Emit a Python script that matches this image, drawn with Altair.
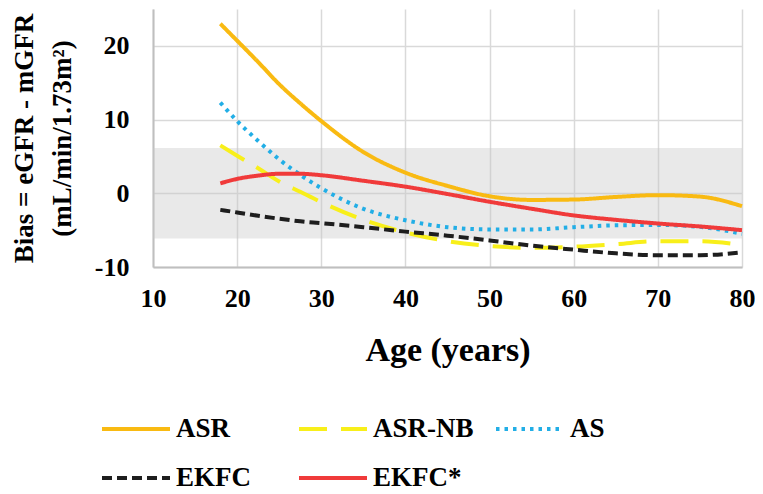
import altair as alt
import pandas as pd

ages = [18, 20, 22.5, 25, 27.5, 30, 35, 40, 45, 50, 55, 60, 65, 70, 75, 80]
asr = [23.0, 20.7, 17.8, 14.8, 12.2, 9.8, 5.6, 2.8, 1.0, -0.4, -0.9, -0.85, -0.5, -0.25, -0.45, -1.75]
asr_nb = [6.5, 5.1, 3.4, 1.6, 0.2, -1.2, -3.6, -5.3, -6.5, -7.15, -7.4, -7.25, -6.9, -6.5, -6.5, -7.0]
as_ = [12.3, 9.8, 7.1, 4.6, 2.5, 0.7, -2.1, -3.65, -4.6, -4.9, -4.9, -4.6, -4.35, -4.3, -4.55, -5.5]
ekfc = [-2.25, -2.6, -3.05, -3.45, -3.8, -4.05, -4.6, -5.2, -5.75, -6.4, -7.1, -7.65, -8.15, -8.4, -8.4, -8.0]
ekfc_star = [1.35, 1.95, 2.4, 2.65, 2.65, 2.45, 1.7, 0.9, -0.1, -1.15, -2.1, -3.0, -3.6, -4.1, -4.5, -5.0]

series_names = ["ASR", "ASR-NB", "AS", "EKFC", "EKFC*"]
series_values = [asr, asr_nb, as_, ekfc, ekfc_star]
series_colors = ["#F9BA12", "#F8EF1A", "#22AEE6", "#1E1E1E", "#F03A3A"]
series_dash = [[1, 0], [28, 14], [3.5, 5], [10, 5], [1, 0]]

band_low = [-6.15]
band_high = [6.15]
x_ticks = [10, 20, 30, 40, 50, 60, 70, 80]
y_ticks = [-10, 0, 10, 20]

rows = []
for name, vals in zip(series_names, series_values):
    for a, v in zip(ages, vals):
        rows.append({"Age": a, "Bias": v, "Series": name})
df = pd.DataFrame(rows)
band_df = pd.DataFrame({"lo": band_low, "hi": band_high})

FONT = "Liberation Serif"

x_scale = alt.Scale(domain=[10, 80], nice=False, zero=False)
y_scale = alt.Scale(domain=[-10, 25], nice=False, zero=False)

band = alt.Chart(band_df).mark_rect(color="#C8C8C8", opacity=0.4).encode(
    y=alt.Y("lo:Q", scale=y_scale),
    y2="hi:Q",
    x=alt.value(0),
    x2=alt.value(589),
)

lines = alt.Chart(df).mark_line(strokeWidth=4, interpolate="monotone", strokeCap="butt").encode(
    x=alt.X("Age:Q", scale=x_scale,
            axis=alt.Axis(values=x_ticks, title="Age (years)", grid=True, labelFlush=False)),
    y=alt.Y("Bias:Q", scale=y_scale,
            axis=alt.Axis(values=y_ticks, title=["Bias = eGFR - mGFR", "(mL/min/1.73m²)"], grid=True,
                          labelExpr="'' + datum.value", labelFlush=False)),
    color=alt.Color("Series:N", sort=series_names,
                    scale=alt.Scale(domain=series_names, range=series_colors),
                    legend=alt.Legend(title=None, orient="none", legendX=-53, legendY=384,
                                      direction="horizontal", columns=3, gridAlign="all",
                                      symbolType="stroke", symbolSize=4624, symbolStrokeWidth=4,
                                      labelFont=FONT, labelFontSize=27, labelFontWeight="bold",
                                      labelColor="#000", labelOffset=4, columnPadding=14,
                                      rowPadding=-8)),
    strokeDash=alt.StrokeDash("Series:N", sort=series_names,
                              scale=alt.Scale(domain=series_names, range=series_dash),
                              legend=None),
    order=alt.Order("Age:Q"),
)

chart = alt.layer(band, lines).properties(
    width=589, height=258,
    autosize=alt.AutoSizeParams(type="none"),
    padding={"left": 145, "top": 1, "right": 13, "bottom": 219},
).configure_view(stroke=None).configure_axis(
    labelFont=FONT, labelFontSize=26, labelFontWeight="bold", labelColor="#000",
    titleFont=FONT, titleColor="#000", titleFontWeight="bold",
    gridColor="#D9D9D9", gridWidth=1.5, domainColor="#BFBFBF", domainWidth=2,
    ticks=False,
).configure_axisX(
    labelPadding=18, titleFontSize=34, titlePadding=22,
).configure_axisY(
    labelPadding=24, titleFontSize=27, titleLineHeight=38, titlePadding=18,
)

chart.save("out.html", embed_options={"renderer": "svg", "actions": False})
